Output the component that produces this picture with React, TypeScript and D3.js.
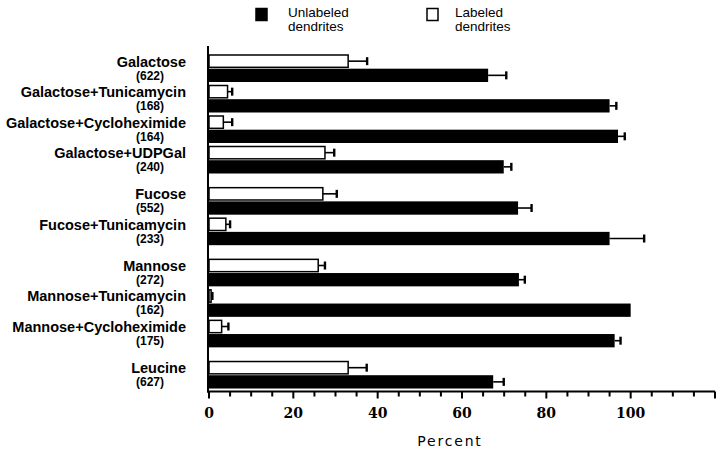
import React from "react";
import * as d3 from "d3";

const categories = [
  "Galactose",
  "Galactose+Tunicamycin",
  "Galactose+Cycloheximide",
  "Galactose+UDPGal",
  "Fucose",
  "Fucose+Tunicamycin",
  "Mannose",
  "Mannose+Tunicamycin",
  "Mannose+Cycloheximide",
  "Leucine",
];
const counts = ["(622)", "(168)", "(164)", "(240)", "(552)", "(233)", "(272)", "(162)", "(175)", "(627)"];
const sections = [0, 0, 0, 0, 1, 1, 2, 2, 2, 3];
const labeled = [33, 4.4, 3.4, 27.5, 27, 4, 25.9, 0.5, 3, 33];
const labeledErr = [4.5, 1.1, 2.1, 2.2, 3.3, 1, 1.6, 0.3, 1.6, 4.4];
const unlabeled = [66.2, 95, 97, 69.9, 73.3, 95, 73.5, 100, 96.2, 67.4];
const unlabeledErr = [4.3, 1.6, 1.6, 1.8, 3.2, 8.2, 1.4, 0, 1.4, 2.5];
const xTicksMajor = [0, 20, 40, 60, 80, 100];
const xTicksMinor = d3.range(0, 121, 5);
const legendItems = [
  { key: "unlabeled", line1: "Unlabeled", line2: "dendrites", fill: "#000" },
  { key: "labeled", line1: "Labeled", line2: "dendrites", fill: "#fff" },
];

export default function App() {
  const W = 720, H = 456;
  const x = d3.scaleLinear().domain([0, 120]).range([209, 715]);
  const sectionGap = 0.35;
  const slot = d3.scaleLinear().domain([0, 1]).range([55, 85.5]);
  const inner = d3.scaleBand().domain(["labeled", "unlabeled"]).range([0, 26]).paddingInner(0.1);
  const axisY = 391.5;
  const capH = 8;

  const rows = categories.map((c, i) => {
    const top = slot(i + sections[i] * sectionGap);
    return { c, i, top };
  });

  const errBar = (yTop: number, h: number, v: number, e: number, key: string) => {
    if (e <= 0) return null;
    const yc = yTop + h / 2;
    return (
      <g key={key}>
        <line x1={x(v)} x2={x(v + e)} y1={yc} y2={yc} stroke="#000" strokeWidth={1.6} />
        <line x1={x(v + e)} x2={x(v + e)} y1={yc - capH / 2} y2={yc + capH / 2} stroke="#000" strokeWidth={2.4} />
      </g>
    );
  };

  return (
    <svg width={W} height={H} style={{ position: "absolute", left: 0, top: 0, background: "#fff" }}>
      <rect width={W} height={H} fill="#fff" />
      {/* legend */}
      {legendItems.map((d, k) => {
        const lx = k === 0 ? 256 : 427;
        const tx = k === 0 ? 288 : 455;
        return (
          <g key={d.key}>
            <rect x={lx} y={8.5} width={11} height={12} fill={d.fill} stroke="#000" strokeWidth={1.5} />
            <text x={tx} y={17} fontFamily="Liberation Sans, Arial, sans-serif" fontSize={13.5} fill="#000">{d.line1}</text>
            <text x={tx} y={31} fontFamily="Liberation Sans, Arial, sans-serif" fontSize={13.5} fill="#000">{d.line2}</text>
          </g>
        );
      })}

      {/* bars */}
      {rows.map(({ i, top }) => {
        const yl = top + (inner("labeled") as number);
        const yu = top + (inner("unlabeled") as number);
        const bh = inner.bandwidth();
        return (
          <g key={i}>
            <rect x={x(0)} y={yl} width={x(labeled[i]) - x(0)} height={bh} fill="#fff" stroke="#000" strokeWidth={1.5} />
            {errBar(yl, bh, labeled[i], labeledErr[i], "le" + i)}
            <rect x={x(0)} y={yu} width={x(unlabeled[i]) - x(0)} height={bh + 1} fill="#000" />
            {errBar(yu, bh + 1, unlabeled[i], unlabeledErr[i], "ue" + i)}
          </g>
        );
      })}

      {/* labels */}
      {rows.map(({ c, i, top }) => (
        <g key={"lab" + i}>
          <text x={186} y={top + 11.5} textAnchor="end" fontFamily="Liberation Sans, Arial, sans-serif" fontWeight="bold" fontSize={14.5} fill="#000">{c}</text>
          <text x={150} y={top + 24.5} textAnchor="middle" fontFamily="Liberation Sans, Arial, sans-serif" fontWeight="bold" fontSize={12} fill="#000">{counts[i]}</text>
        </g>
      ))}

      {/* axes */}
      <line x1={208} x2={208} y1={46} y2={axisY + 1} stroke="#000" strokeWidth={2} />
      <line x1={207} x2={x(120)} y1={axisY} y2={axisY} stroke="#000" strokeWidth={2} />
      {xTicksMinor.map((t) => (
        <line key={"t" + t} x1={x(t)} x2={x(t)} y1={axisY} y2={axisY + (t % 20 === 0 ? 7 : 5)} stroke="#000" strokeWidth={2} />
      ))}
      {xTicksMajor.map((t) => (
        <text key={"tl" + t} x={x(t)} y={418} textAnchor="middle" fontFamily="DejaVu Serif, serif" fontWeight="bold" fontSize={14} fill="#000">{t}</text>
      ))}
      <text x={450} y={446} textAnchor="middle" fontFamily="DejaVu Sans, sans-serif" fontSize={14} letterSpacing={1.8} fill="#000">Percent</text>
    </svg>
  );
}
